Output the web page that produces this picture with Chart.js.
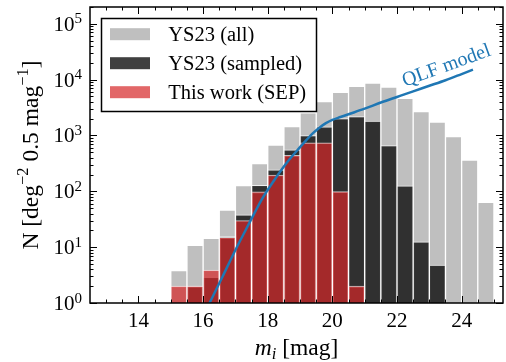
<!DOCTYPE html>
<html>
<head>
<meta charset="utf-8">
<script src="https://cdn.jsdelivr.net/npm/chart.js@4"></script>
<style>
  body { margin: 0; background: #fff; }
  canvas { display: block; }
</style>
</head>
<body>
<canvas id="grafica" width="506" height="362"></canvas>
<script>
const binCenters = [15.25, 15.75, 16.25, 16.75, 17.25, 17.75, 18.25, 18.75, 19.25, 19.75,
                    20.25, 20.75, 21.25, 21.75, 22.25, 22.75, 23.25, 23.75, 24.25, 24.75];
const ys23All     = [3.8, 10.8, 14.4, 46, 127, 315, 676, 1450, 2550, 4050,
                     5930, 7590, 8650, 7350, 4630, 2690, 1740, 960, 363, 63.5];
const ys23Sampled = [null, 2, 2.9, 15.5, 38, 128, 242, 552, 1000, 1425,
                     2010, 2170, 1820, 660, 126, 12.5, 4.8, null, null, null];
const sepCounts   = [2, 2, 3.9, 15, 30, 98, 196, 440, 740, 740,
                     99, 2, null, null, null, null, null, null, null, null];

// curva del modelo QLF
const qlfMag = [16.0, 16.2, 16.6, 17.0, 17.4, 17.8, 18.2, 18.6, 19.0, 19.2, 19.4, 19.6,
                19.8, 20.0, 20.25, 20.5, 21.0, 21.5, 22.0, 22.5, 23.0, 23.5, 24.0, 24.35];
const qlfN   = [0.58, 1.0, 2.95, 8.9, 25, 69, 158, 331, 617, 832, 1100, 1380,
                1660, 1900, 2140, 2400, 3020, 3890, 4900, 6170, 7760, 9770, 12600, 15100];

const xTickLabels = [14, 16, 18, 20, 22, 24];
const yDecades = [0, 1, 2, 3, 4, 5];

const SERIF = "'Liberation Serif', 'DejaVu Serif', serif";
Chart.defaults.font.family = SERIF;

function puntos(valores) {
    return binCenters.map((x, i) => ({x: x, y: valores[i]})).filter(p => p.y !== null);
}

// texto con partes (superíndices / subíndices)
function textoRico(ctx, partes, x, y, align) {
    let w = 0;
    partes.forEach(p => { ctx.font = p[1]; w += ctx.measureText(p[0]).width; });
    let cx = align === 'center' ? x - w / 2 : (align === 'right' ? x - w : x);
    ctx.textAlign = 'left';
    ctx.textBaseline = 'alphabetic';
    partes.forEach(p => {
        ctx.font = p[1];
        ctx.fillText(p[0], cx, y + (p[2] || 0));
        cx += ctx.measureText(p[0]).width;
    });
}

const ejesPlugin = {
    id: 'ejes',
    afterDatasetsDraw(chart) {
        const {ctx, chartArea: a, scales: {x, y}} = chart;
        ctx.save();
        ctx.strokeStyle = '#000';
        ctx.lineWidth = 1;
        const raya = (x1, y1, x2, y2) => { ctx.beginPath(); ctx.moveTo(x1, y1); ctx.lineTo(x2, y2); ctx.stroke(); };

        // ticks x: mayores cada 2, menores cada 0.5
        for (let v = 13; v <= x.max; v += 0.5) {
            const px = Math.round(x.getPixelForValue(v)) + 0.5;
            const len = xTickLabels.includes(v) ? 7 : 3.5;
            raya(px, a.bottom, px, a.bottom - len);
            raya(px, a.top, px, a.top + len);
        }
        // ticks y (log)
        yDecades.forEach(e => {
            for (let m = 1; m <= 9; m++) {
                const v = m * Math.pow(10, e);
                if (v > y.max) break;
                const py = Math.round(y.getPixelForValue(v)) + 0.5;
                const len = m === 1 ? 7 : 3.5;
                raya(a.left, py, a.left + len, py);
                raya(a.right, py, a.right - len, py);
            }
        });

        ctx.fillStyle = '#000';
        // etiquetas x
        xTickLabels.forEach(v => {
            ctx.font = '21px ' + SERIF;
            ctx.textAlign = 'center';
            ctx.textBaseline = 'alphabetic';
            ctx.fillText(String(v), x.getPixelForValue(v), a.bottom + 24);
        });
        // etiquetas y 10^n
        yDecades.forEach(e => {
            const py = y.getPixelForValue(Math.pow(10, e));
            textoRico(ctx, [['10', '21px ' + SERIF, 0], [String(e), '15px ' + SERIF, -7.5]], a.left - 8, py + 7, 'right');
        });

        // título eje x
        textoRico(ctx, [['m', 'italic 23.5px ' + SERIF, 0], ['i', 'italic 16.5px ' + SERIF, 3.5],
                        [' [mag]', '23.5px ' + SERIF, 0]], (a.left + a.right) / 2, 355, 'center');
        // título eje y
        ctx.save();
        ctx.translate(38, (a.top + a.bottom) / 2);
        ctx.rotate(-Math.PI / 2);
        textoRico(ctx, [['N [deg', '23.5px ' + SERIF, 0], ['\u22122', '16.5px ' + SERIF, -10.5],
                        [' 0.5 mag', '23.5px ' + SERIF, 0], ['\u22121', '16.5px ' + SERIF, -10.5],
                        [']', '23.5px ' + SERIF, 0]], 0, 0, 'center');
        ctx.restore();

        // etiqueta del modelo
        ctx.save();
        ctx.translate(446.5, 66);
        ctx.rotate(-20 * Math.PI / 180);
        ctx.fillStyle = '#1f77b4';
        ctx.font = '20px ' + SERIF;
        ctx.textAlign = 'center';
        ctx.textBaseline = 'middle';
        ctx.fillText('QLF model', 0, 0);
        ctx.restore();

        // leyenda
        ctx.fillStyle = '#fff';
        ctx.fillRect(101.5, 18.5, 215, 93);
        ctx.lineWidth = 1.5;
        ctx.strokeRect(101.5, 18.5, 215, 93);
        const barras = chart.data.datasets.filter(d => d.type !== 'line');
        barras.forEach((d, i) => {
            const cy = 34.2 + i * 29;
            ctx.fillStyle = d.backgroundColor;
            ctx.fillRect(110, cy - 6, 40, 12);
            ctx.fillStyle = '#000';
            ctx.font = '20.5px ' + SERIF;
            ctx.textAlign = 'left';
            ctx.textBaseline = 'alphabetic';
            ctx.fillText(d.label, 168.3, cy + 7);
        });

        // marco
        ctx.strokeStyle = '#000';
        ctx.lineWidth = 1.5;
        ctx.strokeRect(a.left, a.top, a.right - a.left, a.bottom - a.top);
        ctx.restore();
    }
};

const ctx = document.getElementById('grafica').getContext('2d');
window.grafica = new Chart(ctx, {
    type: 'bar',
    data: {
        datasets: [
            {
                label: 'YS23 (all)',
                data: puntos(ys23All),
                backgroundColor: '#bfbfbf',
                borderColor: '#ffffff',
                borderWidth: 1,
                grouped: false,
                order: 3
            },
            {
                label: 'YS23 (sampled)',
                data: puntos(ys23Sampled),
                backgroundColor: 'rgba(0,0,0,0.75)',
                borderColor: 'rgba(255,255,255,0.75)',
                borderWidth: 1,
                grouped: false,
                order: 2
            },
            {
                label: 'This work (SEP)',
                data: puntos(sepCounts),
                backgroundColor: 'rgba(214,39,40,0.7)',
                borderColor: 'rgba(255,255,255,0.7)',
                borderWidth: 1,
                grouped: false,
                order: 1
            },
            {
                type: 'line',
                label: 'QLF model',
                data: qlfMag.map((m, i) => ({x: m, y: qlfN[i]})),
                borderColor: '#1f77b4',
                borderWidth: 2.5,
                pointRadius: 0,
                cubicInterpolationMode: 'monotone',
                clip: 0,
                order: 0
            }
        ]
    },
    options: {
        responsive: false,
        animation: false,
        events: [],
        layout: { padding: { left: 0, right: 3, top: 7, bottom: 0 } },
        datasets: { bar: { barPercentage: 1, categoryPercentage: 1 } },
        plugins: { legend: { display: false }, tooltip: { enabled: false } },
        scales: {
            x: {
                type: 'linear',
                min: 12.5,
                max: 25.28,
                offset: false,
                grid: { display: false },
                border: { display: false },
                ticks: { display: false },
                afterBuildTicks: s => { s.ticks = xTickLabels.map(v => ({value: v})); },
                afterFit: s => { s.height = 59; }
            },
            y: {
                type: 'logarithmic',
                min: 1,
                max: 2.0e5,
                grid: { display: false },
                border: { display: false },
                ticks: { display: false },
                afterFit: s => { s.width = 90; }
            }
        }
    },
    plugins: [ejesPlugin]
});
</script>
</body>
</html>
